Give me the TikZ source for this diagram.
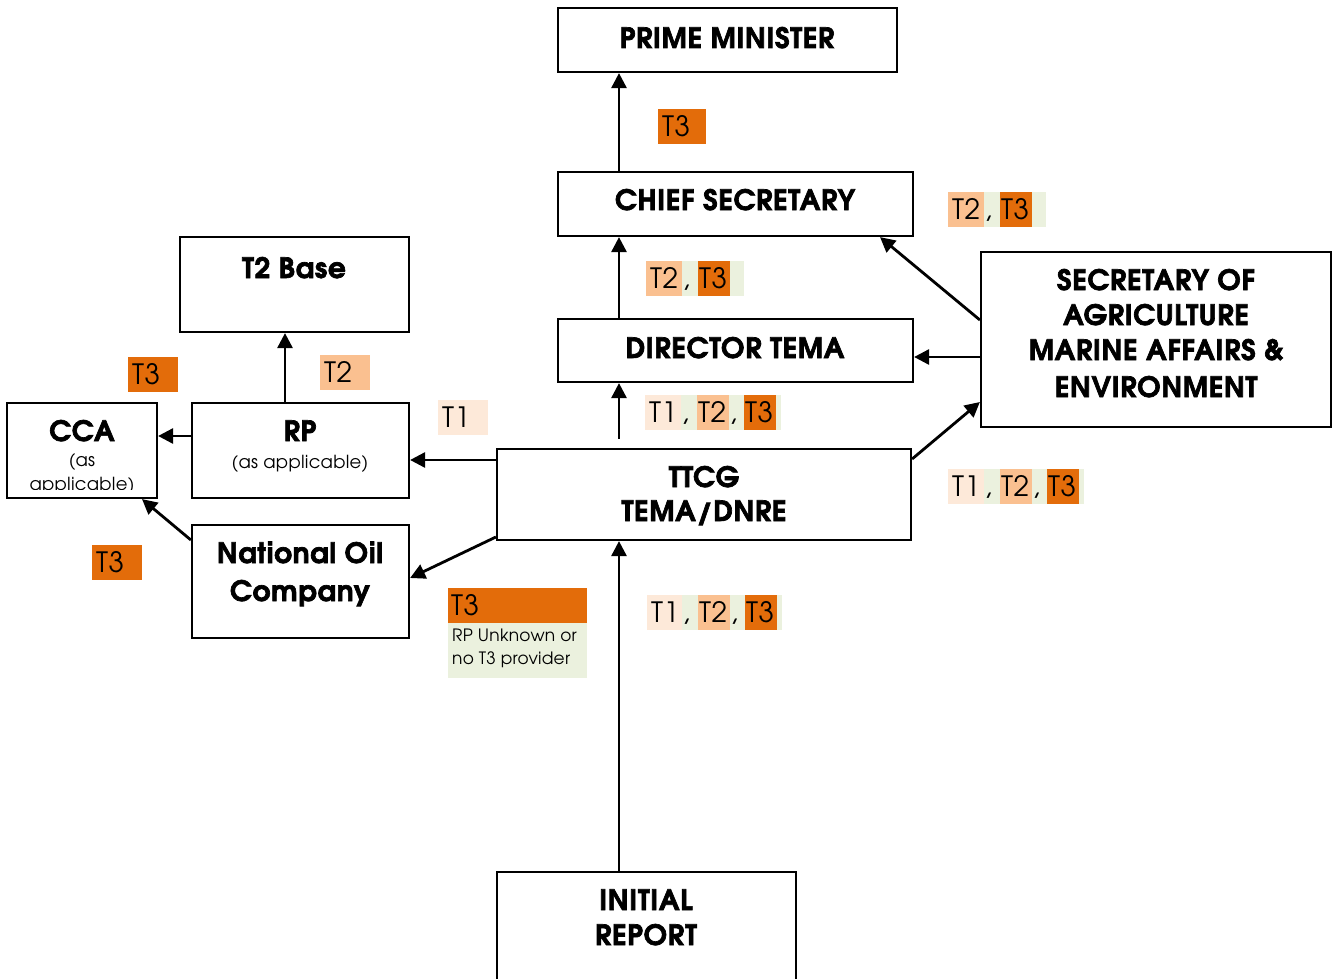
\documentclass[tikz,border=0pt]{standalone}
\usepackage{fontspec}
\setmainfont{texgyreadventor}[Extension=.otf,UprightFont=*-regular,BoldFont=*-bold,
  BoldFeatures={FakeBold=2.4,LetterSpace=2.5},UprightFeatures={LetterSpace=1.5}]
\usetikzlibrary{arrows.meta}
\definecolor{tOrange}{HTML}{E36C0A}
\definecolor{tPeach}{HTML}{FAC090}
\definecolor{tLight}{HTML}{FDE9D9}
\definecolor{tGreen}{HTML}{EBF1DE}
% coloured tier chip: colour, width, left offset, text
\newcommand\tchip[4]{{\setlength\fboxsep{0pt}\colorbox{#1}{\makebox[#2][l]{\rule[-8pt]{0pt}{35pt}\hspace{#3}#4}}}}
\begin{document}
\begin{tikzpicture}[x=1pt,y=-1pt,
  box/.style={draw=black,line width=2.2pt,inner sep=0pt,fill=white},
  hd/.style={font=\fontsize{28}{30}\selectfont\bfseries,anchor=base,inner sep=0pt},
  sub/.style={font=\fontsize{18}{21}\selectfont,anchor=base,inner sep=0pt},
  chip/.style={font=\fontsize{28}{30}\selectfont\addfontfeatures{LetterSpace=5},anchor=north west,inner sep=0pt},
  arr/.style={line width=2.8pt,-{Triangle[length=15pt,width=15pt]}}]
\useasboundingbox (0,0) rectangle (1338,979);

% boxes
\node[box,minimum width=339pt,minimum height=64pt] (pm) at (727.5,40) {};
\node[box,minimum width=355pt,minimum height=64pt] (cs) at (735.5,204) {};
\node[box,minimum width=355pt,minimum height=63pt] (dt) at (735.5,350.5) {};
\node[box,minimum width=350pt,minimum height=175pt] (sec) at (1156,339.5) {};
\node[box,minimum width=414pt,minimum height=91pt] (ttcg) at (704,494.5) {};
\node[box,minimum width=229pt,minimum height=95pt] (t2) at (294.5,284.5) {};
\node[box,minimum width=217pt,minimum height=95pt] (rp) at (300.5,450.5) {};
\node[box,minimum width=150pt,minimum height=95pt] (cca) at (82,450.5) {};
\node[box,minimum width=217pt,minimum height=113pt] (noc) at (300.5,581.5) {};
\node[box,minimum width=299pt,minimum height=118pt] (ir) at (646.5,931) {};

% box texts
\node[hd] (pmT) at (727,48) {PRIME MINISTER};
\node[hd] (csT) at (735,210) {CHIEF SECRETARY};
\node[hd] (dtT) at (735,358) {DIRECTOR TEMA};
\node[hd] (secA) at (1156,290) {SECRETARY OF};
\node[hd] (secB) at (1156,325) {AGRICULTURE};
\node[hd] (secC) at (1156,360) {MARINE AFFAIRS \&};
\node[hd] (secD) at (1156,397) {ENVIRONMENT};
\node[hd] (ttA) at (704,487) {TTCG};
\node[hd] (ttB) at (704,521) {TEMA/DNRE};
\node[hd] (t2T) at (294,278) {T2 Base};
\node[hd] (rpT) at (300,441) {RP};
\node[sub] (rpS) at (300,468) {(as applicable)};
\node[hd] (nocA) at (300,563) {National Oil};
\node[hd] (nocB) at (300,601) {Company};
\node[hd] (irA) at (646,910) {INITIAL};
\node[hd] (irB) at (646,945) {REPORT};
\node[hd] (ccaT) at (82,441) {CCA};
\begin{scope}
  \clip (9,405) rectangle (155,489);
  \node[sub] (ccaS) at (82,466) {(as};
  \node[sub] (ccaU) at (82,490) {applicable)};
\end{scope}

% tier chips
\node[chip] (c1) at (658,109) {\tchip{tOrange}{48pt}{4pt}{T3}};
\node[chip] (c2) at (646,261) {\tchip{tPeach}{36pt}{4pt}{T2}\tchip{tGreen}{16pt}{0pt}{,}\tchip{tOrange}{32pt}{1pt}{T3}\tchip{tGreen}{14pt}{0pt}{}};
\node[chip] (c3) at (645,395) {\tchip{tLight}{36pt}{4pt}{T1}\tchip{tGreen}{16pt}{0pt}{,}\tchip{tPeach}{32pt}{1pt}{T2}\tchip{tGreen}{15pt}{0pt}{,}\tchip{tOrange}{32pt}{1pt}{T3}\tchip{tGreen}{5pt}{0pt}{}};
\node[chip] (c4) at (647,595) {\tchip{tLight}{35pt}{4pt}{T1}\tchip{tGreen}{16pt}{0pt}{,}\tchip{tPeach}{32pt}{1pt}{T2}\tchip{tGreen}{15pt}{0pt}{,}\tchip{tOrange}{32pt}{1pt}{T3}\tchip{tGreen}{5pt}{0pt}{}};
\node[chip] (c5) at (948,192) {\tchip{tPeach}{36pt}{4pt}{T2}\tchip{tGreen}{16pt}{0pt}{,}\tchip{tOrange}{32pt}{1pt}{T3}\tchip{tGreen}{14pt}{0pt}{}};
\node[chip] (c6) at (948,469) {\tchip{tLight}{36pt}{4pt}{T1}\tchip{tGreen}{16pt}{0pt}{,}\tchip{tPeach}{32pt}{1pt}{T2}\tchip{tGreen}{15pt}{0pt}{,}\tchip{tOrange}{32pt}{1pt}{T3}\tchip{tGreen}{5pt}{0pt}{}};
\node[chip] (c7) at (438,400) {\tchip{tLight}{50pt}{4pt}{T1}};
\node[chip] (c8) at (320,355) {\tchip{tPeach}{50pt}{4pt}{T2}};
\node[chip] (c9) at (128,357) {\tchip{tOrange}{50pt}{4pt}{T3}};
\node[chip] (c10) at (92,545) {\tchip{tOrange}{50pt}{4pt}{T3}};

% unknown provider note
\node[fill=tOrange,minimum width=139pt,minimum height=35pt,inner sep=0pt,anchor=north west] (nt3) at (448,588) {};
\node[fill=tGreen,minimum width=139pt,minimum height=55pt,inner sep=0pt,anchor=north west] (ntg) at (448,623) {};
\node[chip,anchor=base west] (ntA) at (451,615) {T3};
\node[font=\fontsize{17}{20}\selectfont,anchor=base west,inner sep=0pt] (ntB) at (452,641) {RP Unknown or};
\node[font=\fontsize{17}{20}\selectfont,anchor=base west,inner sep=0pt] (ntC) at (452,664) {no T3 provider};

% connector guide coordinates
\coordinate (xv) at (619,0);
\coordinate (xcs) at (880,0);
\coordinate (xt2) at (285,0);
\coordinate (xcca) at (142,0);
\coordinate (ysc) at (0,320);
\coordinate (ysd) at (0,357);
\coordinate (yts) at (0,459);
\coordinate (yse) at (0,402);
\coordinate (yrp) at (0,460);
\coordinate (ytn) at (0,537);
\coordinate (ynoc) at (0,578);
\coordinate (yrc) at (0,436);
\coordinate (ync) at (0,540);

% connectors
\draw[arr] (cs.north -| xv) -- (pm.south -| xv);
\draw[arr] (dt.north -| xv) -- (cs.south -| xv);
\draw[arr,shorten <=9pt] (ttcg.north -| xv) -- (dt.south -| xv);
\draw[arr] (ir.north -| xv) -- (ttcg.south -| xv);
\draw[arr] (sec.west |- ysc) -- (cs.south -| xcs);
\draw[arr] (sec.west |- ysd) -- (dt.east |- ysd);
\draw[arr] (ttcg.east |- yts) -- (sec.west |- yse);
\draw[arr] (ttcg.west |- yrp) -- (rp.east |- yrp);
\draw[arr] (ttcg.west |- ytn) -- (noc.east |- ynoc);
\draw[arr] (rp.north -| xt2) -- (t2.south -| xt2);
\draw[arr] (rp.west |- yrc) -- (cca.east |- yrc);
\draw[arr] (noc.west |- ync) -- (cca.south -| xcca);
\end{tikzpicture}
\end{document}
